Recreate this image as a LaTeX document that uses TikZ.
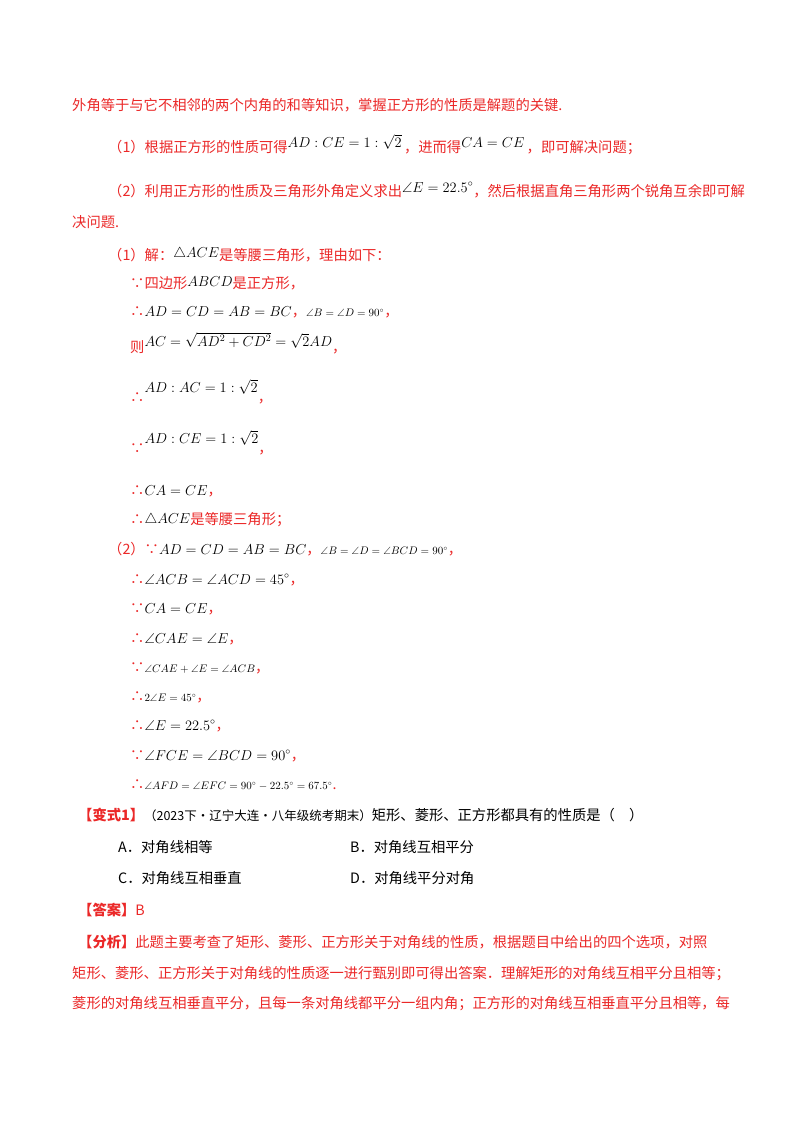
\documentclass[tikz,border=0pt]{standalone}
\usepackage{fontspec}
\usepackage{amsmath,amssymb}
\setmainfont{Liberation Serif}
\newfontfamily\cjk{Noto Sans CJK SC}
\definecolor{rd}{RGB}{235,40,40}
\newcommand{\m}[1]{\textcolor{black}{$#1$}}
\newcommand{\sm}[1]{\textcolor{black}{\fontsize{10.5}{12}\selectfont$#1$}}
\begin{document}
\begin{tikzpicture}[x=1pt,y=-1pt,
  t/.style={anchor=base west,inner sep=0pt,font=\cjk\fontsize{14.3}{16}\selectfont,text=rd}]
\useasboundingbox[fill=white] (0,0) rectangle (800,1132);
\node[t] (l1) at (72,110) {外角等于与它不相邻的两个内角的和等知识，掌握正方形的性质是解题的关键.};
\node[t] (l2) at (108,152) {（1）根据正方形的性质可得\raisebox{5pt}{\m{AD:CE=1:\sqrt2}}\,，进而得\raisebox{5pt}{\m{CA=CE}}\,，即可解决问题；};
\node[t] (l3) at (108,196) {（2）利用正方形的性质及三角形外角定义求出\raisebox{4pt}{\m{\angle E=22.5^\circ}}，然后根据直角三角形两个锐角互余即可解};
\node[t] (l4) at (72,227) {决问题.};
\node[t] (l5) at (108,260) {（1）解：\raisebox{3pt}{\m{\triangle ACE}}是等腰三角形，理由如下：};
\node[t] (l6) at (130,288) {∵四边形\raisebox{2pt}{\m{ABCD}}是正方形，};
\node[t] (l7) at (130,316) {∴\m{AD=CD=AB=BC}，\sm{\angle B=\angle D=90^\circ}，};
\node[t] (l8) at (130,352) {则\raisebox{6pt}{\m{AC=\sqrt{AD^2+CD^2}=\sqrt2 AD}}，};
\node[t] (l9) at (130,402) {∴\raisebox{10pt}{\m{AD:AC=1:\sqrt2}}，};
\node[t] (l10) at (130,453) {∵\raisebox{10pt}{\m{AD:CE=1:\sqrt2}}，};
\node[t] (l11) at (130,495) {∴\m{CA=CE}，};
\node[t] (l12) at (130,524) {∴\raisebox{1pt}{\m{\triangle ACE}}是等腰三角形；};
\node[t] (m1) at (108,554) {（2）∵\m{AD=CD=AB=BC}，\sm{\angle B=\angle D=\angle BCD=90^\circ}，};
\node[t] (m2) at (130,584) {∴\m{\angle ACB=\angle ACD=45^\circ}，};
\node[t] (m3) at (130,613) {∵\m{CA=CE}，};
\node[t] (m4) at (130,643) {∴\m{\angle CAE=\angle E}，};
\node[t] (m5) at (130,672) {∵\sm{\angle CAE+\angle E=\angle ACB}，};
\node[t] (m6) at (130,701) {∴\sm{2\angle E=45^\circ}，};
\node[t] (m7) at (130,730) {∴\m{\angle E=22.5^\circ}，};
\node[t] (m8) at (130,760) {∵\m{\angle FCE=\angle BCD=90^\circ}，};
\node[t] (m9) at (130,789) {∴\sm{\angle AFD=\angle EFC=90^\circ-22.5^\circ=67.5^\circ}.};
\node[t] (v) at (78,820) {\textbf{【变式1】}\textcolor{black}{\fontsize{12.5}{14}\selectfont（2023下·辽宁大连·八年级统考期末）}\textcolor{black}{矩形、菱形、正方形都具有的性质是（\quad）}};
\node[t,text=black] (oa) at (118,852) {A．对角线相等};
\node[t,text=black] (ob) at (350,852) {B．对角线互相平分};
\node[t,text=black] (oc) at (118,883) {C．对角线互相垂直};
\node[t,text=black] (od) at (350,883) {D．对角线平分对角};
\node[t] (ans) at (78,915) {\textbf{【答案】}B};
\node[t] (f1) at (78,947) {\textbf{【分析】}此题主要考查了矩形、菱形、正方形关于对角线的性质，根据题目中给出的四个选项，对照};
\node[t] (f2) at (72,978) {矩形、菱形、正方形关于对角线的性质逐一进行甄别即可得出答案．理解矩形的对角线互相平分且相等；};
\node[t] (f3) at (72,1008) {菱形的对角线互相垂直平分，且每一条对角线都平分一组内角；正方形的对角线互相垂直平分且相等，每};
\end{tikzpicture}
\end{document}
